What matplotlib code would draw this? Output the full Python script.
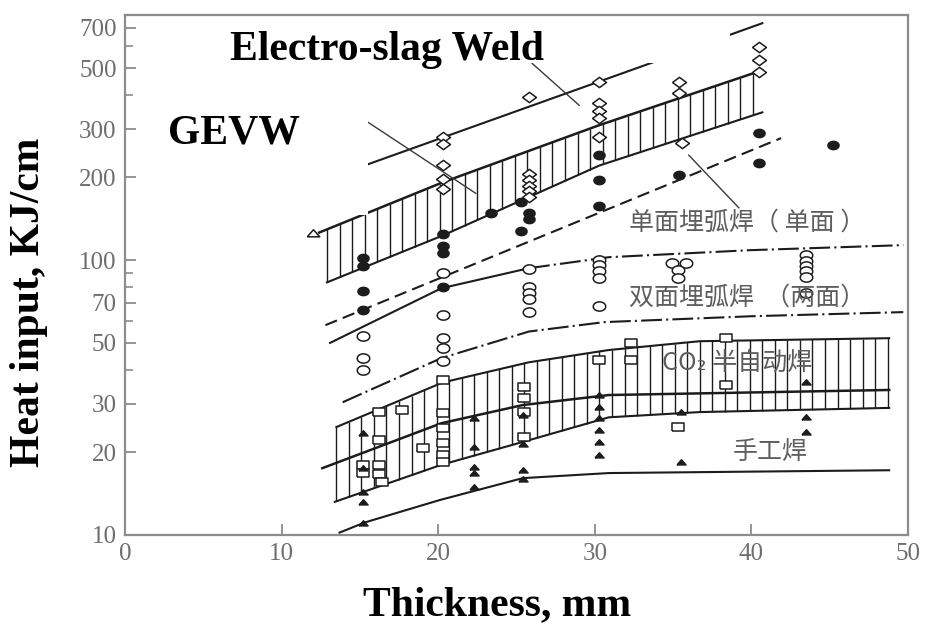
import numpy as np
import matplotlib.pyplot as plt
from matplotlib.patches import Rectangle
from matplotlib.ticker import NullFormatter

plt.rcParams['font.family'] = 'serif'
plt.rcParams['font.serif'] = ['Liberation Serif', 'DejaVu Serif']

# curves: thickness (mm) vs heat input (kJ/cm)
es_x = [15.3, 40.7]                      # electro-slag weld
es_y = [221, 728]
gevw_top_x = [12.4, 20.3, 30.3, 40.7]    # upper hatched band
gevw_top_y = [126, 192, 310, 491]
gevw_bot_x = [12.9, 20.3, 30.3, 40.7]
gevw_bot_y = [83, 123, 221, 345]
saw1_x = [12.8, 41.9]                    # single side SAW (dashed)
saw1_y = [58, 278]
saw2_top_x = [13.1, 20.2, 25.8, 30.9, 39.9, 49.7]
saw2_top_y = [50, 79, 93.5, 102.5, 108.7, 113.4]
saw2_bot_x = [13.9, 20.2, 25.8, 30.6, 40.0, 49.7]
saw2_bot_y = [30.4, 44, 55, 59.5, 62.5, 64.7]
co2_top_x = [13.5, 20.3, 25.8, 30.9, 36.7, 48.8]
co2_top_y = [24.7, 35.9, 42.5, 47.1, 50.7, 52.0]
co2_bot_x = [13.4, 20.2, 25.4, 30.9, 36.7, 48.8]
co2_bot_y = [13.2, 18.0, 21.8, 26.8, 28.0, 29.0]
co2_mid_x = [12.6, 20.2, 25.4, 30.9, 48.8]
co2_mid_y = [17.5, 25.5, 29.7, 32.3, 33.7]
smaw_x = [13.7, 15.3, 20.1, 25.4, 30.9, 48.8]
smaw_y = [10.2, 11.1, 13.4, 16.1, 16.8, 17.2]

# measured points
dia_x = [20.3, 20.3, 20.3, 20.3, 20.3, 25.8, 25.8, 25.8, 25.8, 25.8, 25.8,
         30.3, 30.3, 30.3, 30.3, 30.3, 35.4, 35.4, 35.6, 40.5, 40.5, 40.5]
dia_y = [280, 265, 221, 197, 182, 392, 205, 195, 186, 178, 170,
         444, 372, 350, 328, 280, 444, 404, 266, 595, 533, 483]
fc_x = [15.2, 15.2, 15.2, 15.2, 20.3, 20.3, 20.3, 20.3, 23.4, 25.3, 25.8,
        25.8, 25.3, 30.3, 30.3, 30.3, 35.4, 40.5, 40.5, 45.2]
fc_y = [102, 95, 77, 66, 125, 113, 106, 80, 148, 163, 148,
        141, 128, 241, 195, 158, 204, 290, 225, 262]
oc_x = [15.2, 15.2, 15.2, 20.3, 20.3, 20.3, 20.3, 20.3, 25.8, 25.8, 25.8,
        25.8, 25.8, 30.3, 30.3, 30.3, 30.3, 30.3, 34.9, 35.8, 35.3, 35.3,
        43.5, 43.5, 43.5, 43.5, 43.5, 43.5]
oc_y = [53, 44, 40, 90, 63, 52, 48, 43, 93, 80, 76,
        72, 65, 100, 96, 91, 86, 68, 98, 98, 92, 86,
        104, 99, 95, 91, 87, 76]
sq_x = [15.2, 15.2, 16.2, 16.2, 16.2, 16.2, 16.4, 17.7, 19.0, 20.3, 20.3,
        20.3, 20.3, 20.3, 20.3, 25.5, 25.5, 25.5, 25.5, 30.3, 32.3, 32.3,
        35.3, 38.4, 38.4]
sq_y = [18.0, 16.8, 18.0, 16.6, 22.2, 28.0, 15.6, 28.4, 20.7, 36.6, 27.8,
        24.5, 21.7, 19.5, 18.4, 34.5, 31.5, 28.0, 22.7, 43.3, 50.0, 43.3,
        24.7, 52.0, 35.1]
tr_x = [15.2, 15.2, 15.2, 15.2, 15.2, 22.3, 22.3, 22.3, 22.3, 22.3,
        25.4, 25.4, 25.4, 25.4, 30.3, 30.3, 30.3, 30.3, 30.3, 30.3,
        35.5, 35.5, 43.5, 43.5, 43.5]
tr_y = [23.5, 17.5, 14.3, 13.2, 11.1, 26.6, 20.9, 17.7, 16.8, 14.9,
        27.3, 21.5, 17.2, 16.0, 32.3, 29.2, 26.6, 24.1, 21.8, 19.5,
        28.0, 18.4, 36.0, 26.8, 23.7]
otr_x = [12.0]
otr_y = [126]

# leader lines
gevw_lead_x = [15.5, 22.4]
gevw_lead_y = [318, 175]
es_lead_x = [26.0, 29.0]
es_lead_y = [520, 366]
saw1_lead_x = [36.0, 39.2]
saw1_lead_y = [241, 155]

y_major = [10, 20, 30, 50, 70, 100, 200, 300, 500, 700]
y_minor = [40, 60, 80, 90, 400, 600]
x_major = [0, 10, 20, 30, 40, 50]

INK = '#1c1c1c'
GREY = '#8c8c8c'
CJK = ['Noto Sans CJK SC', 'DejaVu Sans']


def hatch_band(ax, xt, yt, xb, yb, step=0.8):
	# vertical strokes between the two edges of a band
	xs = np.arange(max(xt[0], xb[0]), min(xt[-1], xb[-1]) + 0.01, step)
	top = 10 ** np.interp(xs, xt, np.log10(yt))
	bot = 10 ** np.interp(xs, xb, np.log10(yb))
	ax.vlines(xs, bot, top, color=INK, lw=1.0, zorder=2)


def closed(verts):
	return verts + [verts[0]]


fig = plt.figure(figsize=(9.25, 6.26), dpi=100)
ax = fig.add_axes([0.1351, 0.1454, 0.8465, 0.8307])
ax.set_yscale('log')
ax.set_xlim(0, 50)
ax.set_ylim(10, 780)

# bands
hatch_band(ax, gevw_top_x, gevw_top_y, gevw_bot_x, gevw_bot_y)
hatch_band(ax, co2_top_x, co2_top_y, co2_bot_x, co2_bot_y)

lw = 1.5
ax.plot(es_x, es_y, color=INK, lw=lw)
ax.plot(gevw_top_x, gevw_top_y, color=INK, lw=1.8)
ax.plot(gevw_bot_x, gevw_bot_y, color=INK, lw=lw)
ax.plot(saw1_x, saw1_y, color=INK, lw=lw, dashes=(6, 3))
ax.plot(saw2_top_x[:3], saw2_top_y[:3], color=INK, lw=lw)
ax.plot(saw2_top_x[2:], saw2_top_y[2:], color=INK, lw=lw, dashes=(10, 2, 1, 2))
ax.plot(saw2_bot_x, saw2_bot_y, color=INK, lw=lw, dashes=(10, 2, 1, 2))
ax.plot(co2_top_x, co2_top_y, color=INK, lw=lw)
ax.plot(co2_bot_x, co2_bot_y, color=INK, lw=lw)
ax.plot(co2_mid_x, co2_mid_y, color=INK, lw=1.8)
ax.plot(smaw_x, smaw_y, color=INK, lw=lw)

for lx, ly in [(gevw_lead_x, gevw_lead_y), (es_lead_x, es_lead_y), (saw1_lead_x, saw1_lead_y)]:
	ax.plot(lx, ly, color='#3a3a3a', lw=1.0)

# marker shapes (scan is stretched sideways)
t = np.linspace(0, 2 * np.pi, 40)
ellipse = list(zip(1.35 * np.cos(t), np.sin(t)))
wide_diamond = closed([(-1.35, 0), (0, 1), (1.35, 0), (0, -1)])
wide_square = closed([(-1.3, -1), (1.3, -1), (1.3, 1), (-1.3, 1)])
wide_tri = closed([(-1.5, -0.8), (1.5, -0.8), (0, 0.9)])

mk = dict(ls='none', mec=INK, mew=1.1, zorder=4)
ax.plot(dia_x, dia_y, marker=wide_diamond, ms=10, mfc='white', **mk)
ax.plot(oc_x, oc_y, marker=ellipse, ms=9, mfc='white', **mk)
ax.plot(sq_x, sq_y, marker=wide_square, ms=8, mfc='white', **mk)
ax.plot(fc_x, fc_y, marker=ellipse, ms=8, mfc=INK, **mk)
ax.plot(tr_x, tr_y, marker=wide_tri, ms=6.5, mfc=INK, **mk)
ax.plot(otr_x, otr_y, marker=wide_tri, ms=9, mfc='white', **mk)

# chinese captions from the original figure
cap = dict(family=CJK, fontsize=18, color='#5e5e5e', va='center', ha='left', zorder=5)
ax.text(32.2, 137, '单面埋弧焊（ 单面 ）', **cap)
ax.text(32.2, 72.8, '双面埋弧焊  （两面）', **cap)
ax.text(34.3, 42.2, 'CO₂ 半自动焊', **cap)
ax.text(38.8, 20.0, '手工焊', **cap)

# axes styling
ax.set_yticks(y_major)
ax.set_yticklabels([str(v) for v in y_major])
ax.set_yticks(y_minor, minor=True)
ax.yaxis.set_minor_formatter(NullFormatter())
ax.set_xticks(x_major)
ax.set_xticklabels([str(v) for v in x_major])
ax.tick_params(which='major', direction='in', length=8, width=1.3, color=GREY,
               labelcolor='#6e6e6e', labelsize=18, pad=6)
ax.tick_params(which='minor', direction='in', length=6, width=1.2, color=GREY)
ax.tick_params(top=False, right=False, which='both')
for s in ax.spines.values():
	s.set_color(GREY)
	s.set_linewidth(1.6)

# white label boxes pasted over the scan
W, H = 925.0, 626.0
fig.add_artist(Rectangle((208 / W, 1 - 63 / H), (730 - 208) / W, (63 - 17) / H,
                         transform=fig.transFigure, fc='white', ec='none', zorder=5))
fig.add_artist(Rectangle((140 / W, 1 - 215 / H), (368 - 140) / W, (215 - 63) / H,
                         transform=fig.transFigure, fc='white', ec='none', zorder=5))
big = dict(fontsize=30, fontweight='bold', color='black', zorder=6)
fig.text(230 / W, 1 - 50 / H, 'Electro-slag Weld', ha='left', va='center', **big)
fig.text(168 / W, 1 - 133 / H, 'GEVW', ha='left', va='center', **big)
fig.text(29 / W, 1 - 302 / H, 'Heat input, KJ/cm', rotation=90, ha='center', va='center', **big)
fig.text(497 / W, 1 - 605 / H, 'Thickness, mm', ha='center', va='center', **big)

fig.savefig('out.png', dpi=100)
